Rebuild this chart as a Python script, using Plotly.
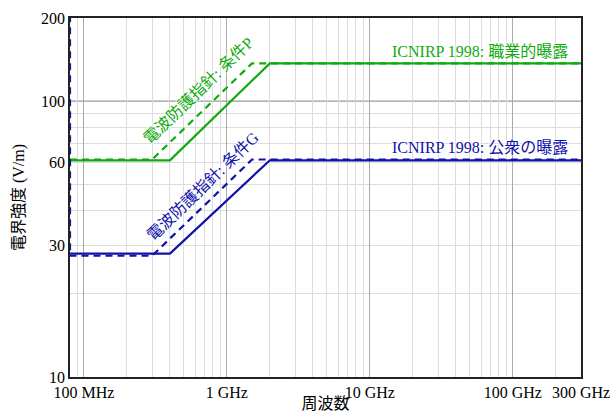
import plotly.graph_objects as go

# ---- data ----
icnirp_occ_f = [8e7, 4e8, 2e9, 3e11]
icnirp_occ_e = [61, 61, 137, 137]
icnirp_pub_f = [8e7, 4e8, 2e9, 3e11]
icnirp_pub_e = [28, 28, 61, 61]
jp_p_f = [8e7, 3e8, 1.5e9, 3e11]
jp_p_e = [61.4, 61.4, 137, 137]
jp_g_f = [8e7, 8e7, 3e8, 1.5e9, 3e11]
jp_g_e = [250, 27.5, 27.5, 61.4, 61.4]

x_tickvals = [1e8, 1e9, 1e10, 1e11, 3e11]
x_ticktext = ["100 MHz", "1 GHz", "10 GHz", "100 GHz", "300 GHz"]
x_minor = [9e7] + [m * 10 ** d for d in (8, 9, 10) for m in range(2, 10)] + [2e11]
y_tickvals = [10, 30, 60, 100, 200]
y_ticktext = ["10", "30", "60", "100", "200"]
y_minor = [20, 30, 40, 50, 60, 70, 80, 90]

GREEN = "#10aa10"
BLUE = "#1010aa"
SERIF = "Liberation Serif, Noto Sans CJK JP, serif"
HALO = "0 0 2px white, 0 0 2px white, 0 0 3px white, 0 0 3px white"

fig = go.Figure()
fig.add_trace(go.Scatter(x=icnirp_occ_f, y=icnirp_occ_e, mode="lines",
                         line=dict(color=GREEN, width=2.2)))
fig.add_trace(go.Scatter(x=jp_p_f, y=jp_p_e, mode="lines",
                         line=dict(color=GREEN, width=2.2, dash="7px,5px")))
fig.add_trace(go.Scatter(x=icnirp_pub_f, y=icnirp_pub_e, mode="lines",
                         line=dict(color=BLUE, width=2.2)))
fig.add_trace(go.Scatter(x=jp_g_f, y=jp_g_e, mode="lines",
                         line=dict(color=BLUE, width=2.2, dash="7px,5px")))

# darker major horizontal grid at 100
fig.add_shape(type="line", xref="paper", x0=0, x1=1, yref="y", y0=100, y1=100,
              line=dict(color="#999999", width=1.2), layer="between")

fig.update_layout(
    width=611, height=412,
    margin=dict(l=70, r=30, t=18, b=35),
    paper_bgcolor="white", plot_bgcolor="white",
    showlegend=False,
    font=dict(family=SERIF, size=16, color="black"),
    xaxis=dict(
        type="log", range=[7.90309, 11.47712],
        tickvals=x_tickvals, ticktext=x_ticktext,
        showgrid=True, gridcolor="#aaaaaa", gridwidth=1.2,
        minor=dict(tickvals=x_minor, showgrid=True, gridcolor="#dddddd", gridwidth=1.2, ticks=""),
        ticks="", showline=True, linecolor="#222222", linewidth=1.5, mirror=True,
        zeroline=False, automargin=False,
        title=dict(text="周波数", font=dict(size=16, family=SERIF), standoff=0),
        tickfont=dict(size=16, family=SERIF),
    ),
    yaxis=dict(
        type="log", range=[1, 2.30103],
        tickvals=y_tickvals, ticktext=y_ticktext,
        showgrid=False,
        minor=dict(tickvals=y_minor, showgrid=True, gridcolor="#dddddd", gridwidth=1.2, ticks=""),
        ticks="", showline=True, linecolor="#222222", linewidth=1.5, mirror=True,
        zeroline=False, automargin=False,
        title=dict(text="電界強度 (V/m)", font=dict(size=16, family=SERIF), standoff=12),
        tickfont=dict(size=16, family=SERIF),
    ),
)

fig.add_annotation(xref="paper", yref="paper", x=0.9785, y=0.908,
                   text="ICNIRP 1998: 職業的曝露", showarrow=False,
                   xanchor="right", yanchor="middle",
                   font=dict(color=GREEN, size=16, family=SERIF, shadow=HALO))
fig.add_annotation(xref="paper", yref="paper", x=0.9785, y=0.638,
                   text="ICNIRP 1998: 公衆の曝露", showarrow=False,
                   xanchor="right", yanchor="middle",
                   font=dict(color=BLUE, size=16, family=SERIF, shadow=HALO))
fig.add_annotation(xref="paper", yref="paper", x=0.252, y=0.797,
                   text="電波防護指針: 条件P", showarrow=False, textangle=-44,
                   xanchor="center", yanchor="middle",
                   font=dict(color=GREEN, size=16, family=SERIF, shadow=HALO))
fig.add_annotation(xref="paper", yref="paper", x=0.260, y=0.530,
                   text="電波防護指針: 条件G", showarrow=False, textangle=-44,
                   xanchor="center", yanchor="middle",
                   font=dict(color=BLUE, size=16, family=SERIF, shadow=HALO))

fig.write_html("out.html", config={"displayModeBar": False},
               post_script="document.body.style.margin='0';document.body.style.overflow='hidden';")
